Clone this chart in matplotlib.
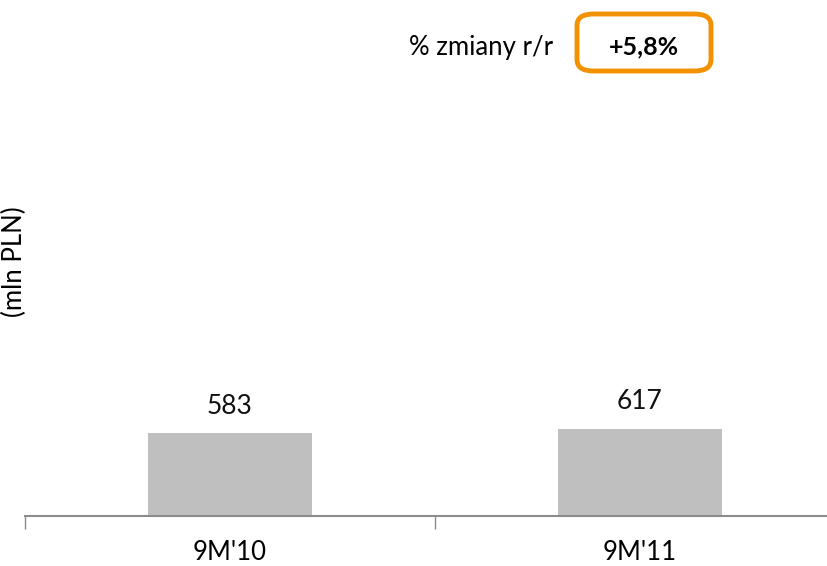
import matplotlib.pyplot as plt
from matplotlib.patches import FancyBboxPatch

plt.rcParams["font.family"] = ["Lato", "DejaVu Sans"]

categories = ["9M'10", "9M'11"]
values = [583, 617]
change_label = "% zmiany r/r"
change_value = "+5,8%"

fig = plt.figure(figsize=(8.27, 5.66), dpi=100)
ax = fig.add_axes([25 / 827, 50 / 566, 820 / 827, 425 / 566])

x = list(range(len(categories)))
ax.bar(x, values, width=0.4, color="#bfbfbf")
for xi, v in zip(x, values):
    ax.text(xi, v + 105, str(v), ha="center", va="bottom", fontsize=19, color="#111111")

ax.set_xlim(-0.5, 1.5)
ax.set_ylim(0, 3000)
ax.set_yticks([])
for s in ["top", "right", "left"]:
    ax.spines[s].set_visible(False)
ax.spines["bottom"].set_color("#8c8c8c")
ax.spines["bottom"].set_linewidth(1.5)

ax.set_xticks(x)
ax.set_xticklabels(categories, fontsize=18.5)
ax.tick_params(axis="x", which="major", length=0, pad=17)
ax.set_xticks([-0.5, 0.5, 1.5], minor=True)
ax.tick_params(axis="x", which="minor", length=9, width=1, color="#8c8c8c")

fig.text(14 / 827, 1 - 262 / 566, "(mln PLN)", rotation=90, ha="center", va="center", fontsize=18.5)

fig.text(553 / 827, 1 - 47 / 566, change_label, ha="right", va="center", fontsize=18.5)
box = FancyBboxPatch((577 / 827, 1 - 71 / 566), 134 / 827, 57 / 566,
                     boxstyle="round,pad=0,rounding_size=0.02", transform=fig.transFigure,
                     facecolor="white", edgecolor="#f39200", linewidth=3.5)
fig.patches.append(box)
fig.text(644 / 827, 1 - 47 / 566, change_value, ha="center", va="center",
         fontsize=18, fontweight="bold")

fig.savefig("out.png", dpi=100)
